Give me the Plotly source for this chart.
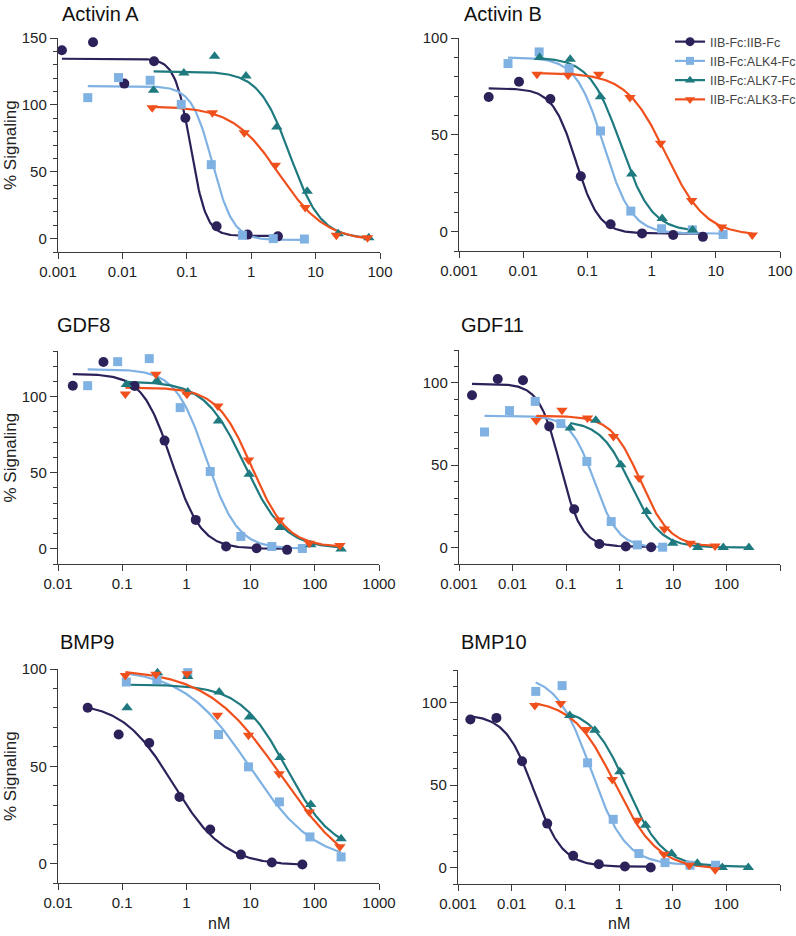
import numpy as np
import plotly.graph_objects as go

# ---------------- data ----------------
series_names = ["IIB-Fc:IIB-Fc", "IIB-Fc:ALK4-Fc", "IIB-Fc:ALK7-Fc", "IIB-Fc:ALK3-Fc"]
panel_titles = ["Activin A", "Activin B", "GDF8", "GDF11", "BMP9", "BMP10"]
x_tick_vals = [0.001, 0.01, 0.1, 1, 10, 100, 1000]
x_tick_text = ["0.001", "0.01", "0.1", "1", "10", "100", "1000"]

# Activin A
actA_x_iib = [0.00115, 0.0035, 0.0107, 0.031, 0.095, 0.29, 0.88, 2.6]
actA_y_iib = [140.8, 146.8, 115.9, 132.6, 90.2, 9.2, 3.0, 1.7]
actA_x_alk4 = [0.0029, 0.0087, 0.027, 0.082, 0.24, 0.73, 2.2, 6.7]
actA_y_alk4 = [105.4, 120.4, 118.4, 100.4, 55.3, 2.5, 0.0, -0.3]
actA_x_alk7 = [0.0305, 0.09, 0.27, 0.83, 2.5, 7.4, 22.4, 67]
actA_y_alk7 = [110.9, 123.8, 136.3, 121.6, 83.5, 35.4, 3.7, 0.7]
actA_x_alk3 = [0.029, 0.25, 0.78, 2.37, 6.9, 21, 64]
actA_y_alk3 = [97.9, 94.2, 79.2, 54.8, 23.2, 2.5, 0.7]
# fitted curves: [top, bottom, IC50, hill]
actA_fit = [[134.5, 2.0, 0.115, 3.6], [114, -1.0, 0.25, 2.7], [125, 0.0, 4.0, 1.8], [99, -2.0, 2.7, 1.2]]

# Activin B
actB_x_iib = [0.0029, 0.0086, 0.0265, 0.079, 0.23, 0.71, 2.17, 6.3]
actB_y_iib = [69.5, 77.4, 68.5, 28.6, 3.8, -0.9, -1.7, -2.7]
actB_x_alk4 = [0.0058, 0.0177, 0.052, 0.16, 0.475, 1.43, 4.3, 13]
actB_y_alk4 = [86.8, 92.8, 84.2, 52.0, 10.6, 1.5, 0.9, -1.5]
actB_x_alk7 = [0.018, 0.054, 0.16, 0.49, 1.46, 4.35]
actB_y_alk7 = [89.9, 89.0, 69.7, 29.8, 6.8, 0.9]
actB_x_alk3 = [0.0164, 0.050, 0.15, 0.46, 1.38, 4.2, 12.3, 37]
actB_y_alk3 = [81.3, 80.8, 81.3, 69.3, 45.7, 16.1, 2.4, -1.7]
actB_fit = [[74, -1.0, 0.066, 2.4], [90, -1.0, 0.18, 2.0], [90, 0.0, 0.33, 1.8], [82, -2.0, 1.67, 1.41]]

# GDF8
gdf8_x_iib = [0.017, 0.051, 0.156, 0.457, 1.4, 4.15, 12.4, 37]
gdf8_y_iib = [107.2, 122.8, 107.0, 71.1, 19.0, 1.5, 0.4, -0.7]
gdf8_x_alk4 = [0.029, 0.085, 0.264, 0.8, 2.35, 7.05, 21.4, 64]
gdf8_y_alk4 = [107.2, 123.0, 125.0, 92.8, 50.8, 8.1, 1.5, 0.2]
gdf8_x_alk7 = [0.116, 0.347, 1.05, 3.16, 9.5, 28.8, 86.5, 257]
gdf8_y_alk7 = [108.0, 110.5, 103.0, 84.0, 49.0, 14.0, 2.6, -0.2]
gdf8_x_alk3 = [0.112, 0.335, 1.02, 3.09, 9.3, 28.1, 82, 246]
gdf8_y_alk3 = [101.8, 114.7, 101.5, 93.9, 58.4, 19.0, 3.7, 2.2]
gdf8_fit = [[115, 0.0, 0.59, 1.9], [118, 0.0, 2.05, 1.8], [110, 0.0, 8.1, 1.4], [106, 1.0, 10.5, 1.59]]

# GDF11
gdf11_x_iib = [0.00175, 0.0053, 0.0157, 0.0486, 0.142, 0.42, 1.31, 3.9]
gdf11_y_iib = [92.5, 102.4, 101.6, 73.6, 23.3, 2.2, 0.6, 0.2]
gdf11_x_alk4 = [0.003, 0.0088, 0.0266, 0.08, 0.245, 0.7, 2.16, 6.4]
gdf11_y_alk4 = [70.2, 83.2, 88.8, 75.3, 52.3, 15.8, 1.6, 0.2]
gdf11_x_alk7 = [0.12, 0.36, 1.06, 3.2, 9.9, 29, 87, 262]
gdf11_y_alk7 = [72.6, 77.3, 50.3, 21.9, 2.6, 0.0, 0.0, 0.0]
gdf11_x_alk3 = [0.0278, 0.084, 0.252, 0.77, 2.32, 6.9, 20.8, 61]
gdf11_y_alk3 = [77.1, 83.4, 78.7, 67.5, 42.2, 11.2, 2.6, 1.0]
gdf11_fit = [[99.5, 0.5, 0.078, 2.2], [80, 0.0, 0.34, 1.94], [77, 0.0, 1.6, 1.55], [80, 0.5, 2.48, 1.6]]

# BMP9
bmp9_x_iib = [0.029, 0.088, 0.264, 0.78, 2.35, 7.05, 21.4, 64]
bmp9_y_iib = [80.1, 66.3, 62.0, 34.2, 17.5, 4.6, 0.5, -0.5]
bmp9_x_alk4 = [0.116, 0.347, 1.05, 3.16, 9.27, 28.1, 84, 257]
bmp9_y_alk4 = [93.3, 94.5, 98.1, 66.3, 49.7, 31.7, 13.7, 3.4]
bmp9_x_alk7 = [0.119, 0.355, 1.05, 3.24, 9.6, 28.8, 86.5, 257]
bmp9_y_alk7 = [80.1, 98.1, 96.2, 88.2, 75.3, 54.5, 30.3, 12.8]
bmp9_x_alk3 = [0.112, 0.335, 1.02, 3.05, 9.27, 27.8, 82, 246]
bmp9_y_alk3 = [96.7, 97.3, 97.6, 76.2, 65.9, 46.2, 26.5, 8.6]
bmp9_fit = [[83, -1.0, 0.62, 1.1], [100, 0.0, 9.5, 0.85], [92, 5.0, 37, 1.2], [100, -10.0, 30, 0.75]]

# BMP10
bmp10_x_iib = [0.0017, 0.0052, 0.0156, 0.046, 0.14, 0.42, 1.29, 3.9]
bmp10_y_iib = [89.9, 90.9, 64.6, 26.7, 7.1, 2.0, 0.6, 0.0]
bmp10_x_alk4 = [0.0281, 0.087, 0.26, 0.78, 2.35, 7.2, 21, 63]
bmp10_y_alk4 = [107.0, 110.5, 63.6, 29.3, 8.5, 3.0, 1.4, 1.4]
bmp10_x_alk7 = [0.121, 0.355, 1.04, 3.13, 9.55, 28.8, 84, 257]
bmp10_y_alk7 = [92.3, 83.4, 58.2, 25.7, 8.5, 2.6, 0.0, 0.0]
bmp10_x_alk3 = [0.027, 0.082, 0.248, 0.75, 2.22, 6.9, 20.4, 62]
bmp10_y_alk3 = [98.4, 99.6, 83.8, 53.5, 28.7, 8.1, 1.4, -1.4]
bmp10_fit = [[93, 0.5, 0.026, 1.63], [117, 1.5, 0.30, 1.35], [97, 0.5, 1.41, 1.31], [102, -1.0, 0.85, 1.1]]

# ---------------- styling / layout ----------------
colors = ["#2d2159", "#7fb2e3", "#1e7a7f", "#f0501c"]
symbols = ["circle", "square", "triangle-up", "triangle-down"]
msizes = [10, 9, 10, 10]

W, H = 796, 936
# pixel boxes: (x0, x1, y_top, y_bottom), log x range, y range
boxes = [
    (58, 380, 38, 252, [-3, 2], [-10, 150]),
    (459, 780, 38, 251, [-3, 2], [-10, 100]),
    (58, 379, 351, 564, [-2, 3], [-10, 130]),
    (459, 780, 350, 564, [-3, 3], [-10, 120]),
    (58, 379, 669, 883, [-2, 3], [-10, 100]),
    (458, 780, 670, 884, [-3, 3], [-10, 120]),
]
title_pos = [(60, 14), (462, 14), (55, 325), (459, 325), (58, 642), (459, 642)]

panels = [
    ([actA_x_iib, actA_x_alk4, actA_x_alk7, actA_x_alk3], [actA_y_iib, actA_y_alk4, actA_y_alk7, actA_y_alk3], actA_fit),
    ([actB_x_iib, actB_x_alk4, actB_x_alk7, actB_x_alk3], [actB_y_iib, actB_y_alk4, actB_y_alk7, actB_y_alk3], actB_fit),
    ([gdf8_x_iib, gdf8_x_alk4, gdf8_x_alk7, gdf8_x_alk3], [gdf8_y_iib, gdf8_y_alk4, gdf8_y_alk7, gdf8_y_alk3], gdf8_fit),
    ([gdf11_x_iib, gdf11_x_alk4, gdf11_x_alk7, gdf11_x_alk3], [gdf11_y_iib, gdf11_y_alk4, gdf11_y_alk7, gdf11_y_alk3], gdf11_fit),
    ([bmp9_x_iib, bmp9_x_alk4, bmp9_x_alk7, bmp9_x_alk3], [bmp9_y_iib, bmp9_y_alk4, bmp9_y_alk7, bmp9_y_alk3], bmp9_fit),
    ([bmp10_x_iib, bmp10_x_alk4, bmp10_x_alk7, bmp10_x_alk3], [bmp10_y_iib, bmp10_y_alk4, bmp10_y_alk7, bmp10_y_alk3], bmp10_fit),
]

FONT = "Liberation Sans, Arial, sans-serif"
AX = "#3a3a3a"

fig = go.Figure()
layout = dict(
    width=W, height=H, margin=dict(l=0, r=0, t=0, b=0, autoexpand=False),
    paper_bgcolor="white", plot_bgcolor="white",
    font=dict(family=FONT, color="#222", size=15),
    showlegend=True,
)
annotations = []

for i, (xs, ys, fits) in enumerate(panels):
    x0, x1, yt, yb, xr, yr = boxes[i]
    n = i + 1
    xa = "xaxis" if n == 1 else f"xaxis{n}"
    ya = "yaxis" if n == 1 else f"yaxis{n}"
    xref = "x" if n == 1 else f"x{n}"
    yref = "y" if n == 1 else f"y{n}"
    layout[xa] = dict(
        type="log", range=xr, domain=[x0 / W, x1 / W], anchor=yref, automargin=False,
        showgrid=False, zeroline=False, showline=True, linecolor=AX, linewidth=1.4,
        ticks="outside", ticklen=6, tickwidth=1.4, tickcolor=AX,
        tickvals=x_tick_vals, ticktext=x_tick_text,
        tickfont=dict(size=15, color="#222", family=FONT),
    )
    layout[ya] = dict(
        range=yr, domain=[1 - yb / H, 1 - yt / H], anchor=xref, automargin=False,
        showgrid=False, zeroline=False, showline=True, linecolor=AX, linewidth=1.4,
        ticks="outside", ticklen=7, tickwidth=1.4, tickcolor=AX,
        tick0=0, dtick=50, tickfont=dict(size=15, color="#222", family=FONT),
        minor=dict(tick0=0, dtick=10, ticks="outside", ticklen=4, tickwidth=1.2, tickcolor=AX),
    )
    for s in range(4):
        top, bot, ic50, hill = fits[s]
        xc = np.logspace(np.log10(min(xs[s])), np.log10(max(xs[s])), 200)
        yc = bot + (top - bot) / (1 + (xc / ic50) ** hill)
        fig.add_trace(go.Scatter(
            x=xc, y=yc, mode="lines", xaxis=xref, yaxis=yref,
            line=dict(color=colors[s], width=2.2), showlegend=False, hoverinfo="skip",
        ))
    for s in range(4):
        fig.add_trace(go.Scatter(
            x=xs[s], y=ys[s], mode="markers", xaxis=xref, yaxis=yref, cliponaxis=False,
            marker=dict(color=colors[s], symbol=symbols[s], size=msizes[s], line=dict(width=0)),
            showlegend=False, name=series_names[s],
        ))
    tx, ty = title_pos[i]
    annotations.append(dict(
        text=panel_titles[i], x=tx / W, y=1 - ty / H, xref="paper", yref="paper",
        xanchor="left", yanchor="middle", showarrow=False,
        font=dict(size=20, color="#111", family=FONT),
    ))
    if i % 2 == 0:
        annotations.append(dict(
            text="% Signaling", x=10 / W, y=1 - ((yt + yb) / 2) / H, xref="paper", yref="paper",
            xanchor="center", yanchor="middle", textangle=-90, showarrow=False,
            font=dict(size=17, color="#222", family=FONT),
        ))
    if i >= 4:
        annotations.append(dict(
            text="nM", x=((x0 + x1) / 2) / W, y=1 - 923 / H, xref="paper", yref="paper",
            xanchor="center", yanchor="middle", showarrow=False,
            font=dict(size=16, color="#222", family=FONT),
        ))

# legend entries
for s in range(4):
    fig.add_trace(go.Scatter(
        x=[None], y=[None], mode="lines+markers", xaxis="x2", yaxis="y2",
        line=dict(color=colors[s], width=2.2),
        marker=dict(color=colors[s], symbol=symbols[s], size=msizes[s] - 1),
        name=series_names[s], showlegend=True,
    ))

layout["legend"] = dict(
    x=670 / W, y=1 - 27 / H, xanchor="left", yanchor="top",
    bgcolor="rgba(0,0,0,0)", borderwidth=0,
    font=dict(size=12.5, color="#444", family=FONT),
    tracegroupgap=0, itemwidth=30,
)
layout["annotations"] = annotations
fig.update_layout(**layout)
fig.write_html(
    "out.html",
    config={"displayModeBar": False},
    post_script="document.body.style.margin='0';document.body.style.overflow='hidden';",
)
